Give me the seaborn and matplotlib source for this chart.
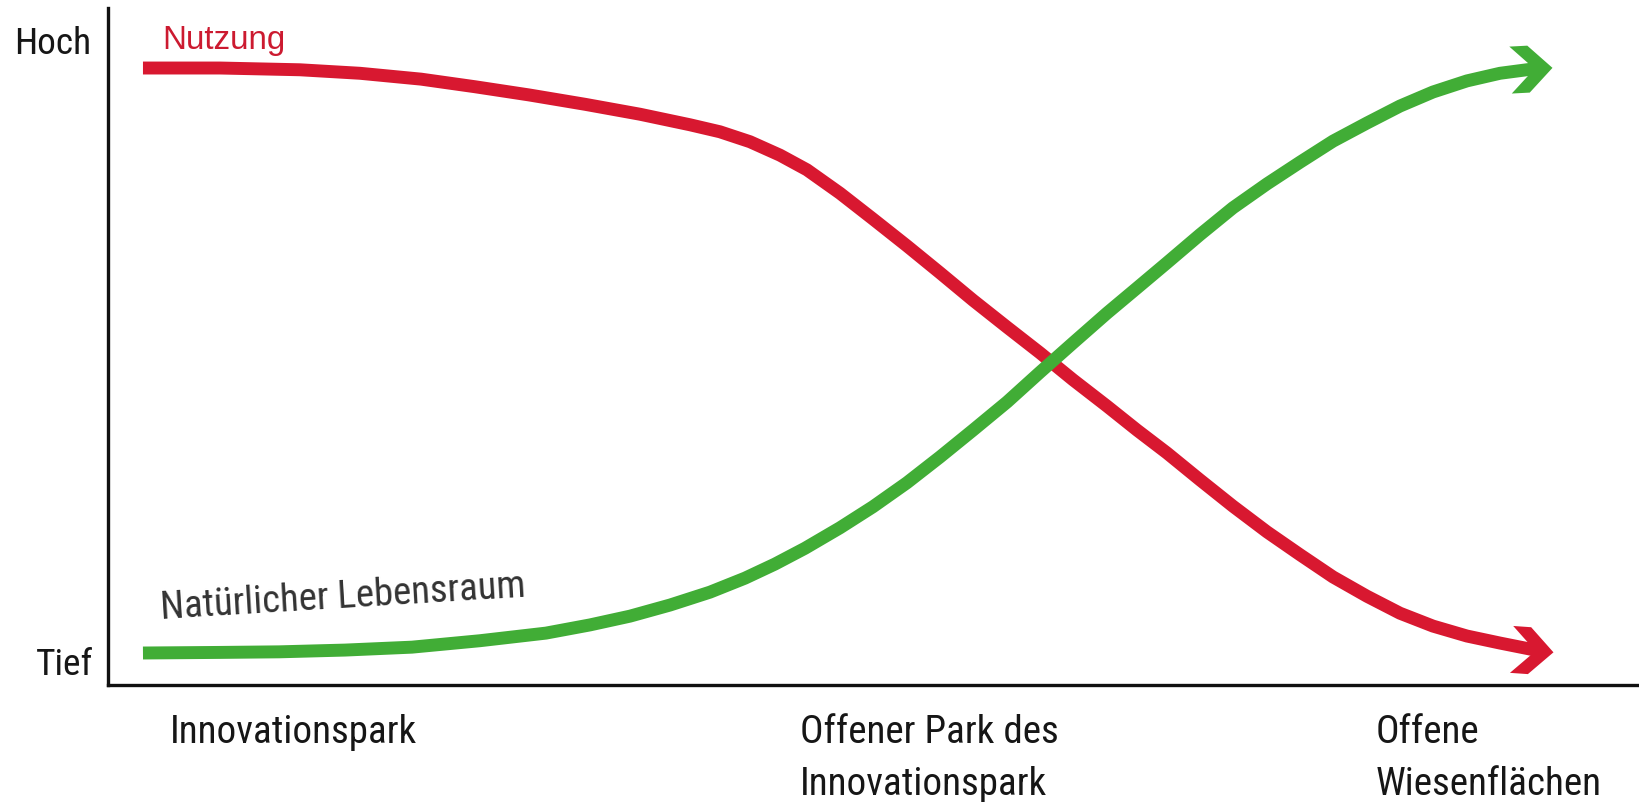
import numpy as np
import pandas as pd
import matplotlib
matplotlib.use("Agg")
import matplotlib.pyplot as plt
from matplotlib.path import Path
from matplotlib import font_manager as fm
import seaborn as sns

# ---------------- data ----------------
# x: position along the gradient (0 = Innovationspark ... 100 = Offene Wiesenflächen)
# y: level (0 = Tief, 1 = Hoch)
nutzung_x = [0.0, 5.46, 11.13, 15.39, 19.72, 23.55, 27.38, 31.35, 35.25, 38.79,
             40.92, 43.05, 45.18, 47.09, 49.43, 51.77, 54.18, 56.52, 58.87, 61.28,
             63.62, 65.96, 68.37, 70.50, 72.62, 74.96, 77.30, 79.72, 82.06, 84.40,
             86.81, 89.15, 91.49, 93.90, 96.24, 99.15]
nutzung_y = [1.000, 1.000, 0.997, 0.991, 0.981, 0.968, 0.954, 0.938, 0.921, 0.903,
             0.891, 0.874, 0.851, 0.826, 0.786, 0.742, 0.696, 0.650, 0.603, 0.557,
             0.513, 0.467, 0.422, 0.381, 0.342, 0.296, 0.251, 0.207, 0.168, 0.130,
             0.097, 0.068, 0.046, 0.029, 0.017, 0.003]

lebensraum_x = [0.0, 5.46, 9.65, 14.33, 19.08, 23.90, 28.58, 31.70, 34.54, 37.38,
                40.21, 42.70, 44.82, 46.95, 49.43, 51.77, 54.18, 56.52, 58.87, 61.28,
                63.62, 65.96, 68.37, 70.50, 72.62, 74.96, 77.30, 79.72, 82.06, 84.40,
                86.81, 89.15, 91.49, 93.90, 96.24, 99.08]
lebensraum_y = [0.000, 0.001, 0.002, 0.005, 0.010, 0.021, 0.034, 0.048, 0.063, 0.082,
                0.104, 0.128, 0.152, 0.179, 0.214, 0.250, 0.291, 0.335, 0.381, 0.429,
                0.480, 0.530, 0.581, 0.624, 0.667, 0.715, 0.761, 0.802, 0.839, 0.875,
                0.906, 0.935, 0.959, 0.978, 0.991, 1.000]

series_names = ["Nutzung", "Natürlicher Lebensraum"]
level_labels = ["Hoch", "Tief"]
stage_labels = ["Innovationspark", "Offener Park des\nInnovationspark", "Offene\nWiesenflächen"]

# ---------------- style ----------------
W, H, DPI = 1639, 802, 100
RED = "#d81830"
GREEN = "#41ad36"
RED_TEXT = "#cc1a30"

sns.set_theme(style="white")
ttf = fm.fontManager.ttflist
avail = {f.name for f in ttf}
base = "Liberation Sans" if "Liberation Sans" in avail else "DejaVu Sans"

# look for a condensed sans face (the reference uses a narrow Arial-like type)
cond_family, cond_stretch = base, "normal"
for cand in ["Liberation Sans Narrow", "Arial Narrow", "Roboto Condensed",
             "Noto Sans Condensed", "Open Sans Condensed", "Nimbus Sans Narrow"]:
    if cand in avail:
        cond_family = cand
        break
else:
    for fam in ["Roboto", "Noto Sans", "Open Sans", "DejaVu Sans"]:
        if any(f.name == fam and str(f.stretch) in ("condensed", "semi-condensed", "75", "87")
               for f in ttf):
            cond_family, cond_stretch = fam, "condensed"
            break

plt.rcParams["font.family"] = [base, "DejaVu Sans"]

df = pd.concat([
    pd.DataFrame({"x": nutzung_x, "y": nutzung_y, "series": series_names[0]}),
    pd.DataFrame({"x": lebensraum_x, "y": lebensraum_y, "series": series_names[1]}),
], ignore_index=True)
palette = {series_names[0]: RED, series_names[1]: GREEN}

fig = plt.figure(figsize=(W / DPI, H / DPI), dpi=DPI)
fig.patch.set_facecolor("white")
ax_left, ax_bottom_px, ax_top_px = 108, 685, 8
ax = fig.add_axes([ax_left / W, 1 - ax_bottom_px / H, 1 - ax_left / W,
                   (ax_bottom_px - ax_top_px) / H])
ax.set_facecolor("white")

LW = 9.3
sns.lineplot(data=df, x="x", y="y", hue="series", palette=palette, sort=False,
             estimator=None, linewidth=LW, legend=False, ax=ax,
             solid_capstyle="butt", solid_joinstyle="round")

ax.set_xlim(-2.48, 106.1)
ax.set_ylim(-0.0547, 1.1026)
ax.set_xlabel("")
ax.set_ylabel("")
ax.set_xticks([])
ax.set_yticks([])
for s in ["top", "right"]:
    ax.spines[s].set_visible(False)
for s in ["left", "bottom"]:
    ax.spines[s].set_color("#111111")
    ax.spines[s].set_linewidth(2.4)

# ---------------- arrow heads (chevrons) at the ends of the series ----------------
head_px = np.array([[12, 0], [-12, 23.5], [-30, 23.5], [-6, 0],
                    [-30, -23.5], [-12, -23.5], [12, 0]], dtype=float)


def chevron(angle_deg):
    a = np.deg2rad(angle_deg)
    rot = np.array([[np.cos(a), -np.sin(a)], [np.sin(a), np.cos(a)]])
    v = head_px @ rot.T
    codes = [Path.MOVETO] + [Path.LINETO] * (len(v) - 2) + [Path.CLOSEPOLY]
    ms = 2 * np.max(np.abs(v)) * 72 / DPI
    return Path(v, codes), ms


for xs, ys, col, ang in [(nutzung_x, nutzung_y, RED, -4),
                         (lebensraum_x, lebensraum_y, GREEN, 3)]:
    p, ms = chevron(ang)
    ax.plot([xs[-1]], [ys[-1]], linestyle="none", marker=p, markersize=ms,
            markerfacecolor=col, markeredgewidth=0, color=col, zorder=5)


# ---------------- text ----------------
def fx(px):
    return px / W


def fy(py):
    return 1 - py / H


renderer = fig.canvas.get_renderer()


def fit_size(label, family, stretch, target_w, max_pt):
    """font size so that `label` is about target_w pixels wide (capped by max_pt)"""
    t = fig.text(0, 0, label, size=20, family=family, fontstretch=stretch)
    w = t.get_window_extent(renderer).width
    t.remove()
    return min(20 * target_w / w, max_pt)


cfam = [cond_family, "DejaVu Sans"]
size_level = fit_size("Hoch", cfam, cond_stretch, 77, 32)
size_stage = fit_size("Offener Park des", cfam, cond_stretch, 259, 31)
size_nat = fit_size("Natürlicher Lebensraum", cfam, cond_stretch, 366, 29)
size_nutz = fit_size("Nutzung", [base, "DejaVu Sans"], "normal", 123, 25)

fig.text(fx(91), fy(54), level_labels[0], ha="right", va="baseline",
         size=size_level, color="#161616", family=cfam, fontstretch=cond_stretch)
fig.text(fx(93), fy(675), level_labels[1], ha="right", va="baseline",
         size=size_level, color="#161616", family=cfam, fontstretch=cond_stretch)

fig.text(fx(162), fy(49), series_names[0], ha="left", va="baseline",
         size=size_nutz, color=RED_TEXT, family=[base, "DejaVu Sans"])
fig.text(fx(161), fy(619), series_names[1], ha="left", va="baseline",
         rotation=3.5, rotation_mode="anchor", fontstretch=cond_stretch,
         size=size_nat, color="#333333", family=cfam)

stage_left = [170, 800, 1376]
line_base = [743, 795]
for lab, lx in zip(stage_labels, stage_left):
    for i, line in enumerate(lab.split("\n")):
        fig.text(fx(lx), fy(line_base[i]), line, ha="left", va="baseline",
                 size=size_stage, color="#161616", family=cfam,
                 fontstretch=cond_stretch)

fig.savefig("out.png", dpi=DPI, facecolor="white")
